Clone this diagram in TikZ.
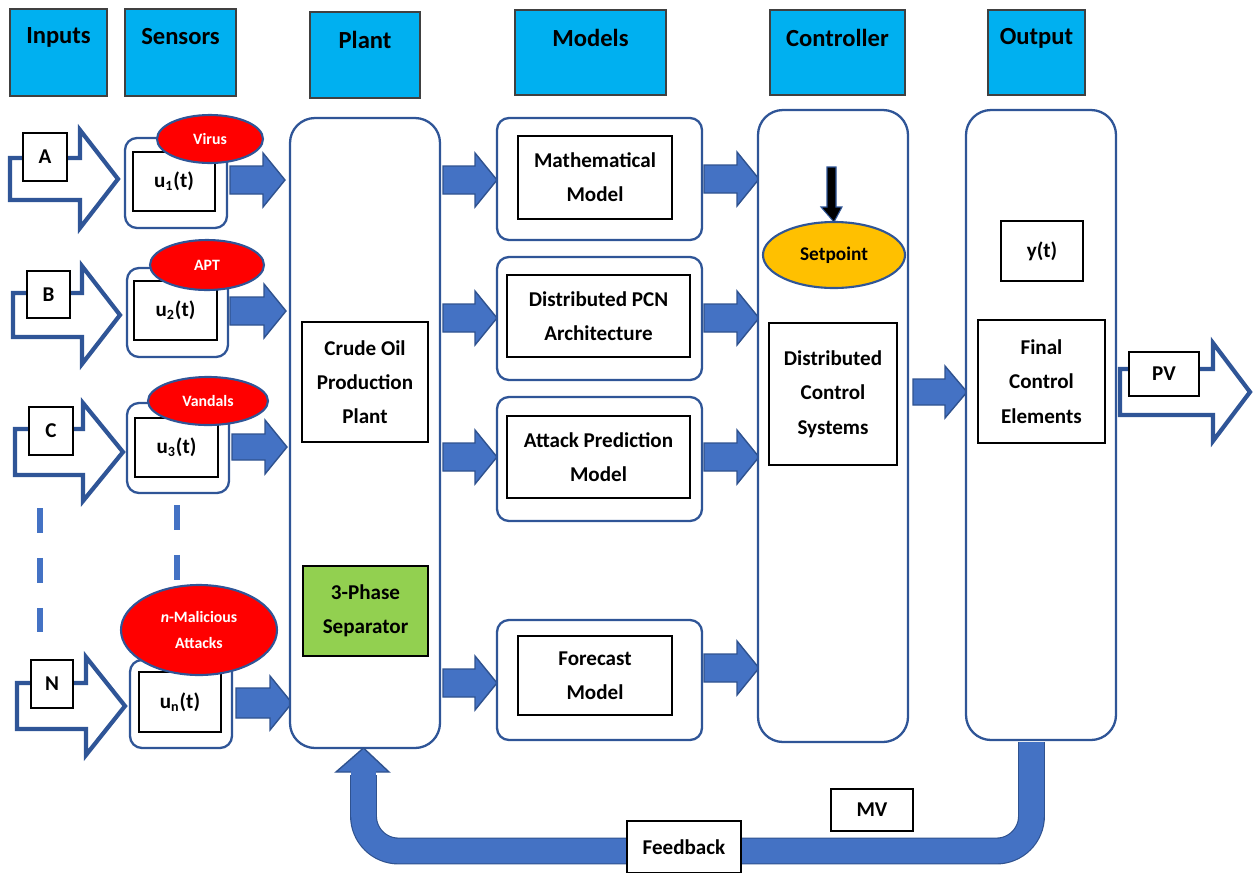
\documentclass[tikz,border=0pt]{standalone}
\usepackage{fontspec}
\setmainfont{Carlito}
\usetikzlibrary{shapes.geometric}

\definecolor{hdr}{HTML}{00B0F0}
\definecolor{hdrline}{HTML}{404040}
\definecolor{bline}{HTML}{2F5597}
\definecolor{afill}{HTML}{4472C4}
\definecolor{aline}{HTML}{2F528F}
\definecolor{attack}{HTML}{FF0000}
\definecolor{spfill}{HTML}{FFC000}
\definecolor{sepfill}{HTML}{92D050}

% block arrow pointing right: [style]{x start}{y centre}{length}{shaft half}{head half}{head length}
\newcommand\blockArrow[7][]{%
  \draw[#1] (#2,#3-#5) -- (#2+#4-#7,#3-#5) -- (#2+#4-#7,#3-#6) -- (#2+#4,#3)
    -- (#2+#4-#7,#3+#6) -- (#2+#4-#7,#3+#5) -- (#2,#3+#5) -- cycle;}

\begin{document}
\begin{tikzpicture}[x=0.02cm,y=-0.02cm,
  sz/.style 2 args={minimum width=#1*0.02cm, minimum height=#2*0.02cm, inner sep=0pt, outer sep=0pt},
  hdrbox/.style={draw=hdrline, fill=hdr, line width=0.9pt},
  hdrtext/.style={font=\bfseries\fontsize{14}{16}\selectfont, inner sep=0pt},
  rbox/.style={draw=bline, line width=1.3pt, rounded corners=0.24cm, fill=white},
  bigbox/.style={draw=bline, line width=1.3pt, rounded corners=0.5cm, fill=white},
  ibox/.style={draw=black, line width=0.8pt, fill=white, align=center,
    font=\bfseries\fontsize{12}{19.5}\selectfont},
  lbox/.style={draw=black, line width=0.8pt, fill=white,
    font=\bfseries\fontsize{12}{14}\selectfont},
  atk/.style={ellipse, draw=bline, line width=1.2pt, fill=attack, text=white, align=center,
    font=\bfseries\fontsize{9}{15}\selectfont},
  harrow/.style={draw=bline, line width=2.4pt, fill=white, line join=miter},
  farrow/.style={draw=aline, line width=0.8pt, fill=afill, line join=miter},
  elide/.style={draw=afill, line width=3.4pt, dash pattern=on 0.5cm off 0.5cm},
]
\useasboundingbox (0,0) rectangle (1259,873);

% ---------- column headers ----------
\node[hdrbox, sz={97}{87}]  (hIn)   at (58.5,52.5)  {};
\node[hdrtext] (tIn)   at (58.5,37)  {Inputs};
\node[hdrbox, sz={111}{87}] (hSen)  at (180.5,52.5) {};
\node[hdrtext] (tSen)  at (180.5,37) {Sensors};
\node[hdrbox, sz={110}{86}] (hPl)   at (365,55)     {};
\node[hdrtext] (tPl)   at (365,40)   {Plant};
\node[hdrbox, sz={151}{85}] (hMod)  at (590.5,52.5) {};
\node[hdrtext] (tMod)  at (590.5,38) {Models};
\node[hdrbox, sz={135}{85}] (hCtl)  at (837.5,52.5) {};
\node[hdrtext] (tCtl)  at (837.5,38) {Controller};
\node[hdrbox, sz={97}{85}]  (hOut)  at (1036.5,52.5) {};
\node[hdrtext] (tOut)  at (1036.5,38) {Output};

% ---------- inputs ----------
\blockArrow[harrow]{10}{179}{108}{21}{49}{38}
\blockArrow[harrow]{13}{315}{107}{22}{49}{38}
\blockArrow[harrow]{15}{452}{108}{23}{49}{40}
\blockArrow[harrow]{17}{706}{108}{23}{49}{39}
\node[lbox, sz={44}{48}] (inA) at (45,157)    {A};
\node[lbox, sz={43}{47}] (inB) at (48.5,294.5) {B};
\node[lbox, sz={44}{48}] (inC) at (51,431)    {C};
\node[lbox, sz={42}{48}] (inN) at (52,684)    {N};

% elision marks between the third and the n-th input
\coordinate (dA1) at (40,508);  \coordinate (dA2) at (40,632);
\coordinate (dB1) at (177,505); \coordinate (dB2) at (177,580);
\draw[elide] (dA1) -- (dA2);
\draw[elide] (dB1) -- (dB2);

% ---------- sensors ----------
\node[rbox, sz={102}{90}] (s1) at (176,183) {};
\node[ibox, sz={82}{59}]  (u1) at (174,181.5) {u\textsubscript{1}(t)};
\node[atk, sz={106}{48}]  (e1) at (210,139) {Virus};

\node[rbox, sz={101}{89}] (s2) at (177.5,312.5) {};
\node[ibox, sz={83}{59}]  (u2) at (175.5,310.5) {u\textsubscript{2}(t)};
\node[atk, sz={114}{50}]  (e2) at (207,265) {APT};

\node[rbox, sz={102}{90}] (s3) at (178,448) {};
\node[ibox, sz={83}{59}]  (u3) at (176.5,447.5) {u\textsubscript{3}(t)};
\node[atk, sz={120}{48}]  (e3) at (208,401) {Vandals};

\node[rbox, sz={102}{88}] (sN) at (181,704) {};
\node[ibox, sz={82}{60}]  (uN) at (180,702) {u\textsubscript{n}(t)};
\node[atk, sz={156}{90}]  (eN) at (199,630) {\textit{n}-Malicious\\Attacks};

% sensors -> plant
\blockArrow[farrow]{230}{180}{55}{14}{27}{22}
\blockArrow[farrow]{230}{311}{56}{14}{27}{22}
\blockArrow[farrow]{232}{447}{55}{13}{27}{22}
\blockArrow[farrow]{236}{703}{56}{15}{27}{22}

% ---------- plant ----------
\node[bigbox, sz={150}{630}] (plant) at (365,433) {};
\node[ibox, sz={126}{120}] (crude) at (365,382) {Crude Oil\\Production\\Plant};
\node[ibox, sz={125}{90}, fill=sepfill] (sep) at (365.5,611) {3-Phase\\Separator};

% plant -> models
\blockArrow[farrow]{443}{180}{54}{14}{27}{22}
\blockArrow[farrow]{443}{318}{54}{14}{27}{22}
\blockArrow[farrow]{443}{457}{54}{14}{27}{22}
\blockArrow[farrow]{443}{683}{54}{14}{27}{22}

% ---------- models ----------
\node[rbox, sz={205}{122}] (mM) at (599.5,179) {};
\node[ibox, sz={154}{83}]  (mMi) at (595,177.5) {Mathematical\\Model};
\node[rbox, sz={205}{123}] (mP) at (599.5,318.5) {};
\node[ibox, sz={183}{82}]  (mPi) at (598.5,316) {Distributed PCN\\Architecture};
\node[rbox, sz={205}{124}] (mA) at (599.5,459) {};
\node[ibox, sz={183}{82}]  (mAi) at (598.5,457) {Attack Prediction\\Model};
\node[rbox, sz={205}{120}] (mF) at (599.5,680) {};
\node[ibox, sz={154}{79}]  (mFi) at (595,675.5) {Forecast\\Model};

% models -> controller
\blockArrow[farrow]{704}{179}{55}{14}{27}{22}
\blockArrow[farrow]{704}{318}{55}{14}{27}{22}
\blockArrow[farrow]{704}{457}{55}{14}{27}{22}
\blockArrow[farrow]{704}{668}{55}{14}{27}{22}

% ---------- controller ----------
\node[bigbox, sz={150}{632}] (ctl) at (833,426) {};
\node[ibox, sz={128}{142}] (dcs) at (833,394) {Distributed\\Control\\Systems};
\node[ellipse, draw=bline, line width=1.2pt, fill=spfill, sz={142}{66},
  font=\bfseries\fontsize{11}{13}\selectfont] (sp) at (834,255) {Setpoint};
\coordinate (spIn) at (831.5,167);
\draw[fill=black, draw=bline, line width=0.6pt, line join=miter]
  (827,167) -- (836,167) -- (836,207) -- (842,207) -- (sp.north)
  -- (821,207) -- (827,207) -- cycle;

% controller -> output
\blockArrow[farrow]{913}{392}{54}{13}{26}{22}

% ---------- output ----------
\node[bigbox, sz={150}{630}] (out) at (1041,425) {};
\node[ibox, sz={82}{60}]   (yt)  at (1042,251) {y(t)};
\node[ibox, sz={127}{123}] (fce) at (1041.5,381.5) {Final\\Control\\Elements};

% process variable
\blockArrow[harrow]{1120}{392}{130}{23}{49}{37}
\node[lbox, sz={70}{44}] (pv) at (1164,374) {PV};

% ---------- feedback path ----------
\coordinate (fb0) at (1031.5,742);
\coordinate (fb1) at (1031.5,851);
\coordinate (fb2) at (363.5,851);
\coordinate (fb3) at (363.5,775);
\draw[aline, line width=15.3pt, rounded corners=0.7cm] (fb0) -- (fb1) -- (fb2) -- (fb3);
\draw[farrow] (plant.south -| fb3) -- (389,772) -- (336,772) -- cycle;
\draw[afill, line width=14pt, rounded corners=0.7cm] (fb0) -- (fb1) -- (fb2) -- (363.5,771);

\node[lbox, sz={114}{52}] (fbk) at (684,847) {Feedback};
\draw[black, line width=0.8pt] (fbk.south west) -- ++(0,10) (fbk.south east) -- ++(0,10);
\node[lbox, sz={82}{42}]  (mv)  at (872,810) {MV};
\end{tikzpicture}
\end{document}
